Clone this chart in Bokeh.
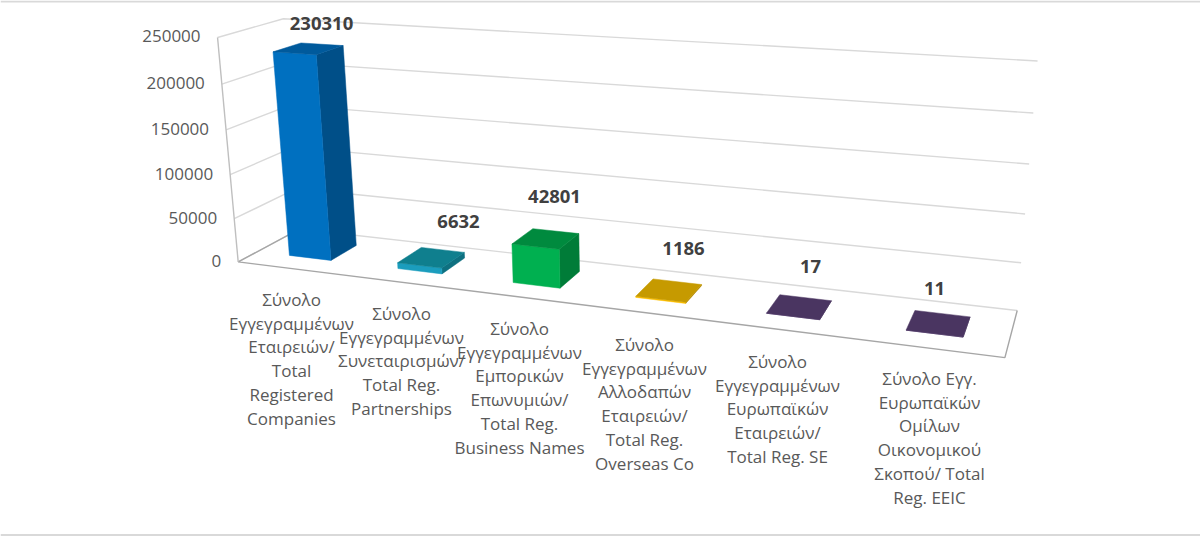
import numpy as np
from bokeh.plotting import figure
from bokeh.models import ColumnDataSource, Span
from bokeh.core.properties import value
from bokeh.embed import file_html
from bokeh.resources import INLINE

# ---- data ----
categories = [
    ["Σύνολο", "Εγγεγραμμένων", "Εταιρειών/", "Total", "Registered", "Companies"],
    ["Σύνολο", "Εγγεγραμμένων", "Συνεταιρισμών/", "Total Reg.", "Partnerships"],
    ["Σύνολο", "Εγγεγραμμένων", "Εμπορικών", "Επωνυμιών/", "Total Reg.", "Business Names"],
    ["Σύνολο", "Εγγεγραμμένων", "Αλλοδαπών", "Εταιρειών/", "Total Reg.", "Overseas Co"],
    ["Σύνολο", "Εγγεγραμμένων", "Ευρωπαϊκών", "Εταιρειών/", "Total Reg. SE"],
    ["Σύνολο Εγγ.", "Ευρωπαϊκών", "Ομίλων", "Οικονομικού", "Σκοπού/ Total", "Reg. EEIC"],
]
values = [230310, 6632, 42801, 1186, 17, 11]
ticks = [0, 50000, 100000, 150000, 200000, 250000]
AXIS_MAX = 250000

# ---- styles ----
front_colors = ["#0070C0", "#1B9DBD", "#00B050", "#FFC000", "#5A4478", "#5A4478"]
side_colors = ["#004F88", "#0E7080", "#007C38", "#B08600", "#3F2F57", "#3F2F57"]
top_colors = ["#005A9C", "#0F7F8E", "#008A3E", "#C69A00", "#4A3561", "#4A3561"]
GRID = "#D9D9D9"
EDGE = "#A6A6A6"
TXT = "#595959"
LBL = "#404040"
FONT = "Open Sans"

# ---- 3-D projection: (u across, d depth, v height) -> picture, fitted to the box corners ----
corners = [
    ((0, 0, 0), (237, 261)), ((1, 0, 0), (1004, 358)),
    ((0, 1, 0), (300, 229)), ((1, 1, 0), (1017, 309)),
    ((0, 0, 1), (218, 36)), ((1, 0, 1), (1026, 88)),
    ((0, 1, 1), (282, 19)), ((1, 1, 1), (1037, 60)),
]
A = []
for (u, d, v), (x, y) in corners:
    X = [u, d, v, 1]
    A.append(X + [0, 0, 0, 0] + [-x * c for c in X])
    A.append([0, 0, 0, 0] + X + [-y * c for c in X])
P = np.linalg.svd(np.array(A, float))[2][-1].reshape(3, 4)


def proj(u, d, v):
    r = P @ np.array([u, d, v, 1.0])
    return r[0] / r[2], r[1] / r[2]


def poly(pts):
    q = [proj(*t) for t in pts]
    return [a for a, _ in q], [b for _, b in q]


p = figure(width=1200, height=536, x_range=(0, 1200), y_range=(536, 0),
           output_backend="svg", toolbar_location=None, min_border=0,
           outline_line_color=None, background_fill_color="white")
p.xaxis.visible = False
p.yaxis.visible = False
p.xgrid.visible = False
p.ygrid.visible = False

# thin frame rules of the picture
for loc in (1, 534.5):
    p.add_layout(Span(location=loc, dimension="width", line_color="#D9D9D9", line_width=2))

# walls' gridlines
for t in ticks:
    v = t / AXIS_MAX
    xs, ys = poly([(0, 0, v), (0, 1, v), (1, 1, v)])
    p.line(xs, ys, line_color=GRID, line_width=1.4)

# floor and axis edges
xs, ys = poly([(0, 1, 0), (0, 0, 0), (1, 0, 0), (1, 1, 0)])
p.line(xs, ys, line_color=EDGE, line_width=1.4)
xs, ys = poly([(0, 0, 0), (0, 0, 1)])
p.line(xs, ys, line_color="#BFBFBF", line_width=1.4)

# bars
n = len(values)
BAR = 0.39
D0, D1 = 0.30, 0.74
fx, fy, fc = [], [], []
for i, val in enumerate(values):
    u0 = (i + 0.5 - BAR / 2) / n
    u1 = (i + 0.5 + BAR / 2) / n
    v = val / AXIS_MAX
    faces = [
        ([(u1, D0, 0), (u1, D1, 0), (u1, D1, v), (u1, D0, v)], side_colors[i]),
        ([(u0, D0, 0), (u1, D0, 0), (u1, D0, v), (u0, D0, v)], front_colors[i]),
        ([(u0, D0, v), (u1, D0, v), (u1, D1, v), (u0, D1, v)], top_colors[i]),
    ]
    for pts, c in faces:
        a, b = poly(pts)
        fx.append(a)
        fy.append(b)
        fc.append(c)
p.patches("x", "y", fill_color="c", line_color="c", line_width=0.5,
          source=ColumnDataSource(dict(x=fx, y=fy, c=fc)))

# tick labels, right aligned beside the left edge
tx, ty = zip(*[proj(0, 0, t / AXIS_MAX) for t in ticks])
p.text([a - 17 for a in tx], [b - 1 for b in ty], text=[str(t) for t in ticks],
       text_align="right", text_baseline="middle", text_color=TXT,
       text_font=value(FONT), text_font_size="17px")

# data labels
LABEL_XY = [(321, 23), (458, 221), (554, 196), (683, 248), (810, 266), (934, 288)]
p.text([a for a, _ in LABEL_XY], [b for _, b in LABEL_XY], text=[str(v) for v in values],
       text_align="center", text_baseline="middle", text_color=LBL,
       text_font=value(FONT), text_font_style="bold", text_font_size="18.5px")

# category labels
CAT_XY = [(291, 299), (401, 313), (519, 328), (644, 344), (777, 361), (929, 378)]
LINE = 23.7
lx, ly, lt = [], [], []
for (cx, cy), lines in zip(CAT_XY, categories):
    for k, s in enumerate(lines):
        lx.append(cx)
        ly.append(cy + k * LINE)
        lt.append(s)
p.text(lx, ly, text=lt, text_align="center", text_baseline="middle", text_color=TXT,
       text_font=value(FONT), text_font_size="17px")

open("out.html", "w").write(file_html(p, INLINE))
